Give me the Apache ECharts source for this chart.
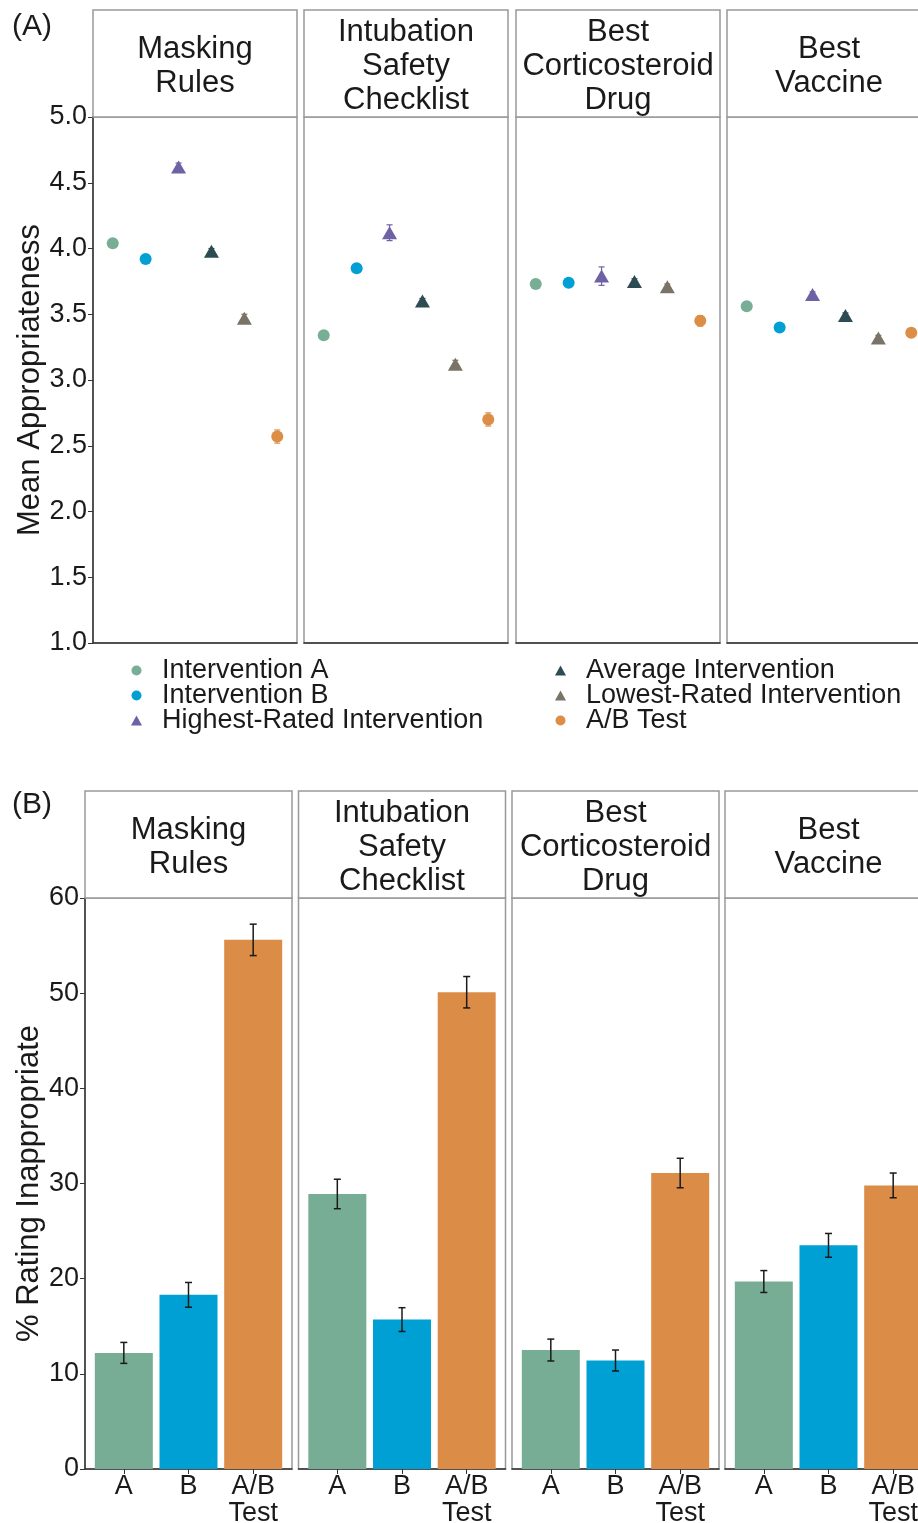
<!DOCTYPE html>
<html><head><meta charset="utf-8">
<script src="https://cdn.jsdelivr.net/npm/echarts@6/dist/echarts.min.js"></script>
<style>html,body{margin:0;padding:0;background:#fff;overflow:hidden;width:918px;height:1523px}#c{width:950px;height:1523px}</style>
</head><body><div id="c"></div><script>
// ---------- DATA ----------
const panelTitles = ['Masking\nRules', 'Intubation\nSafety\nChecklist', 'Best\nCorticosteroid\nDrug', 'Best\nVaccine'];
const pointCategories = ['Intervention A', 'Intervention B', 'Highest-Rated Intervention', 'Average Intervention', 'Lowest-Rated Intervention', 'A/B Test'];
const meanMasking        = [4.04, 3.92, 4.62, 3.98, 3.47, 2.57];
const meanIntubation     = [3.34, 3.85, 4.12, 3.60, 3.12, 2.70];
const meanCorticosteroid = [3.73, 3.74, 3.79, 3.75, 3.71, 3.45];
const meanVaccine        = [3.56, 3.40, 3.65, 3.49, 3.32, 3.36];
const errMasking         = [0.03, 0.03, 0.03, 0.02, 0.03, 0.05];
const errIntubation      = [0.03, 0.03, 0.06, 0.02, 0.03, 0.05];
const errCorticosteroid  = [0.02, 0.02, 0.07, 0.02, 0.02, 0.04];
const errVaccine         = [0.02, 0.02, 0.02, 0.02, 0.02, 0.03];

const barCategories = ['A', 'B', 'A/B\nTest'];
const pctMasking        = [12.2, 18.3, 55.6];
const pctIntubation     = [28.9, 15.7, 50.1];
const pctCorticosteroid = [12.5, 11.4, 31.1];
const pctVaccine        = [19.7, 23.5, 29.8];
const pctErrMasking        = [1.1, 1.3, 1.65];
const pctErrIntubation     = [1.55, 1.25, 1.65];
const pctErrCorticosteroid = [1.15, 1.1, 1.55];
const pctErrVaccine        = [1.15, 1.25, 1.3];

// ---------- STYLE ----------
const pointColors = ['#78AE96', '#00A0D5', '#6E62A4', '#2D4B53', '#7A7467', '#DC8D46'];
const pointSymbols = ['circle', 'circle', 'triangle', 'triangle', 'triangle', 'circle'];
const barColors = ['#78AD95', '#009FD4', '#DB8C47'];
const FONT = '"Liberation Sans", Arial, sans-serif';
const TXT = '#1a1a1a';
const BORDER = '#999999';

const means = [meanMasking, meanIntubation, meanCorticosteroid, meanVaccine];
const errs = [errMasking, errIntubation, errCorticosteroid, errVaccine];
const pcts = [pctMasking, pctIntubation, pctCorticosteroid, pctVaccine];
const pctErrs = [pctErrMasking, pctErrIntubation, pctErrCorticosteroid, pctErrVaccine];

const leftsA = [93, 304, 516, 727], widthA = 204, topA = 117, heightA = 526, stripTopA = 10;
const leftsB = [85, 298.5, 512, 725], widthB = 207, topB = 898, heightB = 571, stripTopB = 791;

const grid = [], xAxis = [], yAxis = [], series = [], graphic = [];

function stripGraphic(left, width, top, height, title) {
  graphic.push({ type: 'rect', shape: { x: left, y: top, width: width, height: height },
    style: { fill: '#fff', stroke: BORDER, lineWidth: 1.5 }, z: 1 });
  graphic.push({ type: 'text', x: left + width / 2, y: top + height / 2 + 3, z: 2,
    style: { text: title, fill: TXT, font: '31px ' + FONT, align: 'center', verticalAlign: 'middle', lineHeight: 34 } });
}

// Panel A
for (let p = 0; p < 4; p++) {
  grid.push({ left: leftsA[p], top: topA, width: widthA, height: heightA, outerBoundsMode: 'none',
    show: true, borderColor: BORDER, borderWidth: 1.5 });
  xAxis.push({ type: 'value', gridIndex: p, min: 0, max: 6.2,
    axisLine: { show: true, onZero: false, lineStyle: { color: '#333', width: 1.5 } },
    axisTick: { show: false }, axisLabel: { show: false }, splitLine: { show: false } });
  yAxis.push({ type: 'value', gridIndex: p, min: 1, max: 5, interval: 0.5,
    name: p === 0 ? 'Mean Appropriateness' : '', nameLocation: 'middle', nameGap: 46,
    nameTextStyle: { fontSize: 31, color: TXT, fontFamily: FONT },
    axisLine: { show: p === 0, lineStyle: { color: '#333', width: 1.5 } },
    axisTick: { show: p === 0, length: 5, lineStyle: { color: '#333' } },
    axisLabel: { show: p === 0, fontSize: 27, color: TXT, fontFamily: FONT, margin: 6, formatter: v => v.toFixed(1) },
    splitLine: { show: false } });
  stripGraphic(leftsA[p], widthA, stripTopA, topA - stripTopA, panelTitles[p]);
  series.push({ type: 'custom', xAxisIndex: p, yAxisIndex: p, z: 3, silent: true,
    data: means[p].map((m, k) => [0.6 + k, m - errs[p][k], m + errs[p][k], k]),
    encode: { x: 0, y: [1, 2] },
    renderItem: function (params, api) {
      const x = api.value(0), lo = api.coord([x, api.value(1)]), hi = api.coord([x, api.value(2)]);
      const c = pointColors[api.value(3)], hw = 3;
      const st = { stroke: c, lineWidth: 1.2 };
      return { type: 'group', children: [
        { type: 'line', shape: { x1: lo[0], y1: lo[1], x2: hi[0], y2: hi[1] }, style: st },
        { type: 'line', shape: { x1: lo[0] - hw, y1: lo[1], x2: lo[0] + hw, y2: lo[1] }, style: st },
        { type: 'line', shape: { x1: hi[0] - hw, y1: hi[1], x2: hi[0] + hw, y2: hi[1] }, style: st }
      ] };
    } });
  for (let k = 0; k < 6; k++) {
    series.push({ type: 'scatter', name: pointCategories[k], xAxisIndex: p, yAxisIndex: p, z: 4,
      symbol: pointSymbols[k], symbolSize: pointSymbols[k] === 'circle' ? 12 : [15, 13],
      itemStyle: { color: pointColors[k], opacity: 1 },
      data: [[0.6 + k, means[p][k]]] });
  }
}

// Panel B
const barTickVals = barCategories.map((c, i) => 0.6 + i);
for (let p = 0; p < 4; p++) {
  const gi = 4 + p;
  grid.push({ left: leftsB[p], top: topB, width: widthB, height: heightB, outerBoundsMode: 'none',
    show: true, borderColor: BORDER, borderWidth: 1.5 });
  xAxis.push({ type: 'value', gridIndex: gi, min: 0, max: 3.2,
    axisLine: { show: true, onZero: false, lineStyle: { color: '#333', width: 1.5 } },
    axisTick: { show: true, customValues: barTickVals, length: 5, lineStyle: { color: '#333' } },
    axisLabel: { show: true, customValues: barTickVals, fontSize: 27, color: TXT, fontFamily: FONT, margin: 4, lineHeight: 27,
      formatter: v => barCategories[Math.round(v - 0.6)] },
    splitLine: { show: false } });
  yAxis.push({ type: 'value', gridIndex: gi, min: 0, max: 60, interval: 10,
    name: p === 0 ? '% Rating Inappropriate' : '', nameLocation: 'middle', nameGap: 38,
    nameTextStyle: { fontSize: 31, color: TXT, fontFamily: FONT },
    axisLine: { show: p === 0, lineStyle: { color: '#333', width: 1.5 } },
    axisTick: { show: p === 0, length: 5, lineStyle: { color: '#333' } },
    axisLabel: { show: p === 0, fontSize: 27, color: TXT, fontFamily: FONT, margin: 6 },
    splitLine: { show: false } });
  stripGraphic(leftsB[p], widthB, stripTopB, topB - stripTopB, panelTitles[p]);
  series.push({ type: 'bar', xAxisIndex: gi, yAxisIndex: gi, barWidth: 58, z: 2, silent: true,
    data: pcts[p].map((v, i) => ({ value: [0.6 + i, v], itemStyle: { color: barColors[i] } })) });
  series.push({ type: 'custom', xAxisIndex: gi, yAxisIndex: gi, z: 5, silent: true,
    data: pcts[p].map((v, i) => [0.6 + i, v - pctErrs[p][i], v + pctErrs[p][i]]),
    encode: { x: 0, y: [1, 2] },
    renderItem: function (params, api) {
      const x = api.value(0), lo = api.coord([x, api.value(1)]), hi = api.coord([x, api.value(2)]);
      const hw = 3.5, st = { stroke: '#1a1a1a', lineWidth: 1.5 };
      return { type: 'group', children: [
        { type: 'line', shape: { x1: lo[0], y1: lo[1], x2: hi[0], y2: hi[1] }, style: st },
        { type: 'line', shape: { x1: lo[0] - hw, y1: lo[1], x2: lo[0] + hw, y2: lo[1] }, style: st },
        { type: 'line', shape: { x1: hi[0] - hw, y1: hi[1], x2: hi[0] + hw, y2: hi[1] }, style: st }
      ] };
    } });
}

graphic.push({ type: 'text', x: 12, y: 27, style: { text: '(A)', fill: TXT, font: '30px ' + FONT, verticalAlign: 'middle' } });
graphic.push({ type: 'text', x: 12, y: 805, style: { text: '(B)', fill: TXT, font: '30px ' + FONT, verticalAlign: 'middle' } });

const legendText = { fontSize: 27, color: TXT, fontFamily: FONT, lineHeight: 25, padding: [0, 0, 0, 15] };
const legendCommon = { orient: 'vertical', top: 652, itemGap: -2, itemWidth: 11, itemHeight: 10,
  symbolKeepAspect: true, textStyle: legendText, selectedMode: false };
const option = {
  animation: false,
  textStyle: { fontFamily: FONT },
  grid, xAxis, yAxis, series, graphic,
  legend: [
    Object.assign({ data: pointCategories.slice(0, 3), left: 126 }, legendCommon),
    Object.assign({ data: pointCategories.slice(3), left: 550 }, legendCommon)
  ]
};
const chart = echarts.init(document.getElementById('c'), null, { renderer: 'canvas' });
chart.setOption(option);
</script></body></html>
